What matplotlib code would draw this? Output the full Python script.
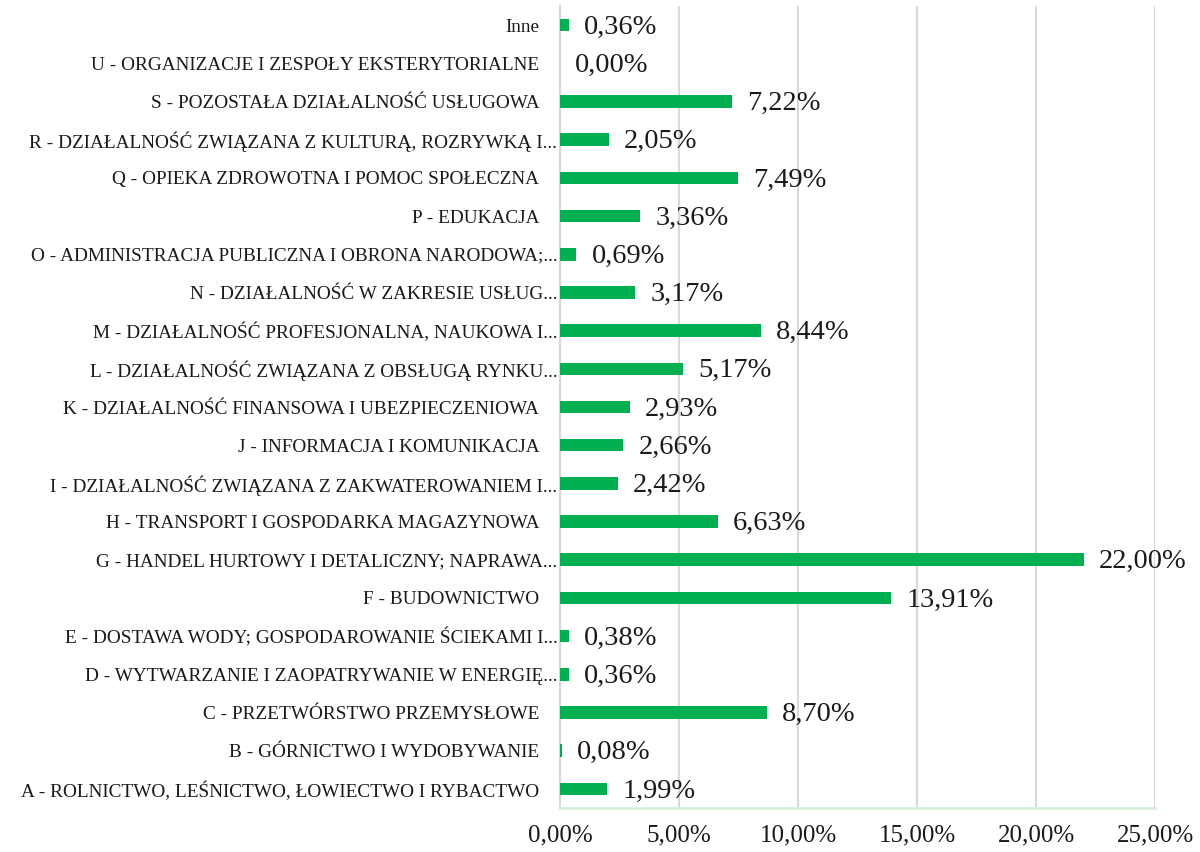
import numpy as np
import matplotlib.pyplot as plt
from matplotlib.transforms import ScaledTranslation

plt.rcParams['font.family'] = ['Liberation Serif', 'DejaVu Serif']

categories = [
    "A - ROLNICTWO, LEŚNICTWO, ŁOWIECTWO I RYBACTWO",
    "B - GÓRNICTWO I WYDOBYWANIE",
    "C - PRZETWÓRSTWO PRZEMYSŁOWE",
    "D - WYTWARZANIE I ZAOPATRYWANIE W ENERGIĘ...",
    "E - DOSTAWA WODY; GOSPODAROWANIE ŚCIEKAMI I...",
    "F - BUDOWNICTWO",
    "G - HANDEL HURTOWY I DETALICZNY; NAPRAWA...",
    "H - TRANSPORT I GOSPODARKA MAGAZYNOWA",
    "I - DZIAŁALNOŚĆ ZWIĄZANA Z ZAKWATEROWANIEM I...",
    "J - INFORMACJA I KOMUNIKACJA",
    "K - DZIAŁALNOŚĆ FINANSOWA I UBEZPIECZENIOWA",
    "L - DZIAŁALNOŚĆ ZWIĄZANA Z OBSŁUGĄ RYNKU...",
    "M - DZIAŁALNOŚĆ PROFESJONALNA, NAUKOWA I...",
    "N - DZIAŁALNOŚĆ W ZAKRESIE USŁUG...",
    "O - ADMINISTRACJA PUBLICZNA I OBRONA NARODOWA;...",
    "P - EDUKACJA",
    "Q - OPIEKA ZDROWOTNA I POMOC SPOŁECZNA",
    "R - DZIAŁALNOŚĆ ZWIĄZANA Z KULTURĄ, ROZRYWKĄ I...",
    "S - POZOSTAŁA DZIAŁALNOŚĆ USŁUGOWA",
    "U - ORGANIZACJE I ZESPOŁY EKSTERYTORIALNE",
    "Inne",
]
values = [1.99, 0.08, 8.70, 0.36, 0.38, 13.91, 22.00, 6.63, 2.42, 2.66, 2.93,
          5.17, 8.44, 3.17, 0.69, 3.36, 7.49, 2.05, 7.22, 0.00, 0.36]
xticks = [0, 5, 10, 15, 20, 25]

fig = plt.figure(figsize=(12, 8.52), dpi=100)
ax = fig.add_axes([0.4667, 0.0516, 0.4958, 0.9414])

y = np.arange(len(categories))
ax.barh(y, values, height=0.33, color="#00B050", zorder=3)

for yi, v in zip(y, values):
    ax.annotate(f"{v:.2f}%".replace(".", ","), (v, yi), xytext=(11, -1.5),
                textcoords="offset points", va="center", ha="left",
                fontsize=20.5, color="#1a1a1a", zorder=4)

ax.set_xlim(0, 25)
ax.set_ylim(-0.5, len(categories) - 0.5)
ax.set_yticks(y)
ax.set_yticklabels(categories, fontsize=13.9, color="#1a1a1a")
ax.set_xticks(xticks)
ax.set_xticklabels([f"{t:.2f}%".replace(".", ",") for t in xticks],
                   fontsize=18, color="#1a1a1a")
ax.tick_params(axis="both", length=0)
ax.tick_params(axis="y", pad=2)
ax.tick_params(axis="x", pad=12)

# full labels sit further from the axis than the shortened ones
for lab in ax.get_yticklabels():
    if not lab.get_text().endswith("..."):
        lab.set_transform(lab.get_transform() +
                          ScaledTranslation(-13 / 72, 0, fig.dpi_scale_trans))

ax.grid(axis="x", color="#d9d9d9", linewidth=1.5, zorder=0)
for s in ["top", "right"]:
    ax.spines[s].set_visible(False)
ax.spines["left"].set_color("#d9d9d9")
ax.spines["left"].set_linewidth(1.5)
ax.spines["bottom"].set_color("#d6f0dd")
ax.spines["bottom"].set_linewidth(2)

plt.savefig("out.png", dpi=100)
